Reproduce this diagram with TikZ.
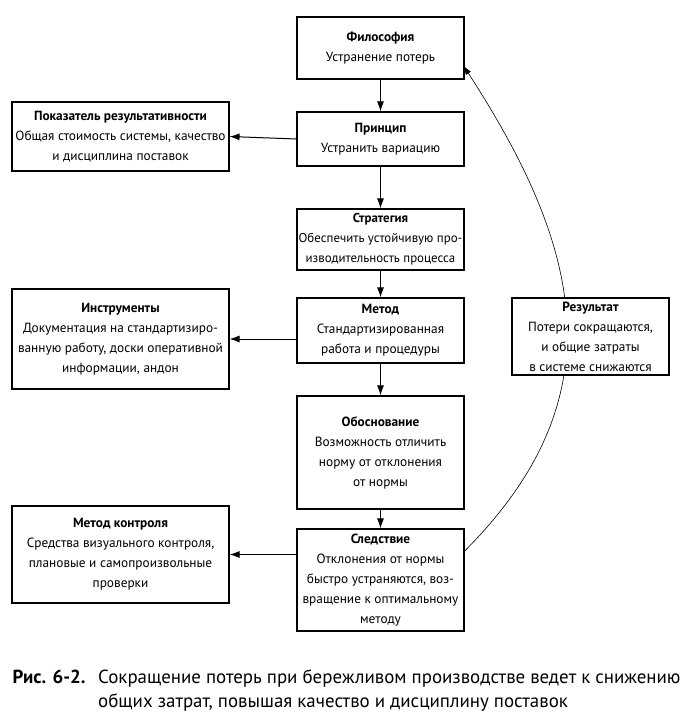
\documentclass[tikz,border=0pt]{standalone}
\usepackage{fontspec}
\setmainfont{PT Sans}
\usetikzlibrary{arrows.meta}
\begin{document}
\begin{tikzpicture}[x=1pt,y=-1pt,
  box/.style={draw=black, line width=1.1pt, fill=white, align=center, inner sep=0pt,
    font=\fontsize{13.3}{20}\selectfont},
  arr/.style={line width=1pt, -{Latex[length=10pt,width=7pt]}},
  loop/.style={line width=0.6pt, -{Latex[length=9pt,width=6pt]}},
  captext/.style={anchor=base west, inner sep=0pt, font=\fontsize{18.9}{24}\selectfont}
]
\useasboundingbox (0,0) rectangle (685,726);
% central column
\node[box, minimum width=167pt, minimum height=62pt] (fil) at (380.5,48) {\textbf{Философия}\\Устранение потерь};
\node[box, minimum width=167pt, minimum height=54pt] (pri) at (380.5,139) {\textbf{Принцип}\\Устранить вариацию};
\node[box, minimum width=167pt, minimum height=61pt, font=\fontsize{12.9}{20}\selectfont] (str) at (380.5,239.5) {\textbf{Стратегия}\\Обеспечить устойчивую про-\\изводительность процесса};
\node[box, minimum width=167pt, minimum height=65pt] (met) at (380.5,330.5) {\textbf{Метод}\\Стандартизированная\\работа и процедуры};
\node[box, minimum width=167pt, minimum height=113pt] (obo) at (380.5,452.5) {\textbf{Обоснование}\\Возможность отличить\\норму от отклонения\\от нормы};
\node[box, minimum width=167pt, minimum height=102pt] (sle) at (380.5,580) {\textbf{Следствие}\\Отклонения от нормы\\быстро устраняются, воз-\\вращение к оптимальному\\методу};
% left column
\node[box, minimum width=217pt, minimum height=69pt] (pok) at (120.5,136.5) {\textbf{Показатель результативности}\\Общая стоимость системы, качество\\и дисциплина поставок};
\node[box, minimum width=217pt, minimum height=100pt] (ins) at (120.5,339) {\textbf{Инструменты}\\Документация на стандартизиро-\\ванную работу, доски оперативной\\информации, андон};
\node[box, minimum width=217pt, minimum height=97pt] (mko) at (120.5,554.5) {\textbf{Метод контроля}\\Средства визуального контроля,\\плановые и самопроизвольные\\проверки};
% loop arc (drawn before result box so the box covers it)
\draw[loop, shorten >=-2pt] (sle.19) to[out=45, in=-57, looseness=1.15] (fil.-13);
\node[box, minimum width=157pt, minimum height=77pt] (res) at (590.5,336.5) {\textbf{Результат}\\Потери сокращаются,\\и общие затраты\\в системе снижаются};
% arrows
\draw[arr] (fil) -- (pri);
\draw[arr] (pri) -- (str);
\draw[arr] (str) -- (met);
\draw[arr] (met) -- (obo);
\draw[arr] (obo) -- (sle);
\draw[arr] (pri.west) -- (pok.east);
\draw[arr] (met.west |- ins.east) -- (ins.east);
\draw[arr] (sle.west |- mko.east) -- (mko.east);
% caption
\node[captext, font=\fontsize{18.9}{24}\selectfont\bfseries] (capl) at (12.5,683) {Рис. 6-2.};
\node[captext] (capt1) at (98,683) {Сокращение потерь при бережливом производстве ведет к снижению};
\node[captext] (capt2) at (98,707) {общих затрат, повышая качество и дисциплину поставок};
\end{tikzpicture}
\end{document}
